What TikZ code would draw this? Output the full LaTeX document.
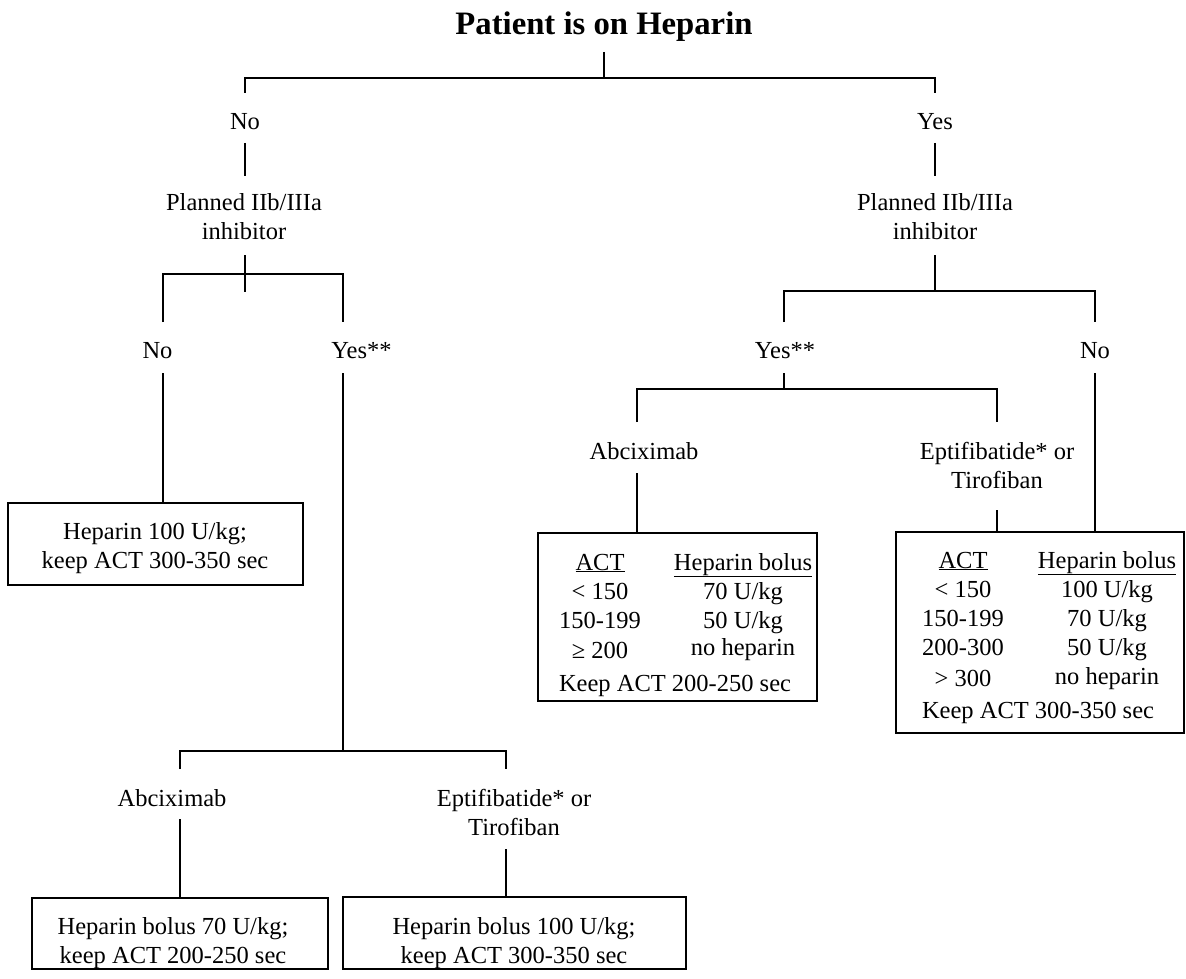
\documentclass[tikz,border=0pt]{standalone}
\usepackage{fontspec}
\setmainfont{Liberation Serif}
\begin{document}
\begin{tikzpicture}[x=1pt,y=-1pt,
  txt/.style={inner sep=0pt, anchor=base, font=\fontsize{24.5}{28.5}\selectfont, align=center},
  ttl/.style={inner sep=0pt, anchor=base, font=\fontsize{32.7}{38}\selectfont\bfseries},
  box/.style={draw, line width=1.9pt, inner sep=0pt},
  ln/.style={line width=1.9pt}]
\useasboundingbox (0,0) rectangle (1186,979);

% ---- title and first split
\node[ttl] (title) at (604,35) {Patient is on Heparin};
\coordinate (t1) at (604,52);
\coordinate (t2) at (604,78);
\draw[ln] (t1) -- (t2);
\node[txt] (no1) at (245,130) {No};
\node[txt] (yes1) at (935,130) {Yes};
\coordinate (nA) at (245,93);
\coordinate (yA) at (935,93);
\draw[ln] (nA) -- (245,78) -- (935,78) -- (yA);

% ---- left "Planned"
\coordinate (n1a) at (245,143); \coordinate (n1b) at (245,176);
\draw[ln] (n1a) -- (n1b);
\node[txt] (pl) at (244,239) {Planned IIb/IIIa\\inhibitor};
\coordinate (pla) at (245,255); \coordinate (plb) at (245,292);
\draw[ln] (pla) -- (plb);
\coordinate (lnoA) at (163,322); \coordinate (lyesA) at (343,322);
\draw[ln] (lnoA) -- (163,274) -- (343,274) -- (lyesA);
\node[txt] (lno) at (157.5,358) {No};
\node[txt] (lyes) at (361.5,358) {Yes**};

% left No -> box
\node[box, minimum width=295pt, minimum height=82pt] (bx1) at (155.5,544) {};
\node[txt] at (155,568) {Heparin 100 U/kg;\\keep ACT 300-350 sec};
\coordinate (lnoB) at (163,373);
\draw[ln] (lnoB) -- (lnoB |- bx1.north);

% left Yes** -> split
\coordinate (lyesB) at (343,373);
\draw[ln] (lyesB) -- (343,751);
\coordinate (labA) at (180,769); \coordinate (leptA) at (506,769);
\draw[ln] (labA) -- (180,751) -- (506,751) -- (leptA);
\node[txt] (lab) at (172,806) {Abciximab};
\node[txt] (lept) at (514,835) {Eptifibatide* or\\Tirofiban};
\node[box, minimum width=296pt, minimum height=71pt] (bx2) at (180,933.5) {};
\node[txt] at (173,963) {Heparin bolus 70 U/kg;\\keep ACT 200-250 sec};
\node[box, minimum width=343pt, minimum height=72pt] (bx3) at (514.5,933) {};
\node[txt] at (514,963) {Heparin bolus 100 U/kg;\\keep ACT 300-350 sec};
\coordinate (labB) at (180,819); \coordinate (leptB) at (506,849);
\draw[ln] (labB) -- (labB |- bx2.north);
\draw[ln] (leptB) -- (leptB |- bx3.north);

% ---- right "Planned"
\coordinate (y1a) at (935,143); \coordinate (y1b) at (935,176);
\draw[ln] (y1a) -- (y1b);
\node[txt] (pr) at (935,239) {Planned IIb/IIIa\\inhibitor};
\coordinate (pra) at (935,255); \coordinate (prb) at (935,291);
\draw[ln] (pra) -- (prb);
\coordinate (ryesA) at (784,322); \coordinate (rnoA) at (1095,322);
\draw[ln] (ryesA) -- (784,291) -- (1095,291) -- (rnoA);
\node[txt] (ryes) at (785,358) {Yes**};
\node[txt] (rno) at (1095,358) {No};

% right Yes** -> split
\coordinate (ryesB) at (784,373);
\draw[ln] (ryesB) -- (784,389);
\coordinate (rabA) at (637,422); \coordinate (reptA) at (997,422);
\draw[ln] (rabA) -- (637,389) -- (997,389) -- (reptA);
\node[txt] (rab) at (644,459) {Abciximab};
\node[txt] (rept) at (997,488) {Eptifibatide* or\\Tirofiban};

% right boxes
\node[box, minimum width=279pt, minimum height=168pt] (bx4) at (677.5,617) {};
\node[box, minimum width=288pt, minimum height=201pt] (bx5) at (1040,632.5) {};
\coordinate (rabB) at (637,473); \coordinate (reptB) at (997,510);
\draw[ln] (rabB) -- (rabB |- bx4.north);
\draw[ln] (reptB) -- (reptB |- bx5.north);
\coordinate (rnoB) at (1095,373);
\draw[ln] (rnoB) -- (rnoB |- bx5.north);

% box 4 contents
\node[txt] at (600,570) {\underline{ACT}};
\node[txt] at (743,570) {\underline{Heparin bolus}};
\node[txt] at (600,599) {< 150};
\node[txt] at (743,599) {70 U/kg};
\node[txt] at (600,628) {150-199};
\node[txt] at (743,628) {50 U/kg};
\node[txt] at (600,658) {≥ 200};
\node[txt] at (743,655) {no heparin};
\node[txt] at (675,691) {Keep ACT 200-250 sec};

% box 5 contents
\node[txt] at (963,568) {\underline{ACT}};
\node[txt] at (1107,568) {\underline{Heparin bolus}};
\node[txt] at (963,597) {< 150};
\node[txt] at (1107,597) {100 U/kg};
\node[txt] at (963,626) {150-199};
\node[txt] at (1107,626) {70 U/kg};
\node[txt] at (963,655) {200-300};
\node[txt] at (1107,655) {50 U/kg};
\node[txt] at (963,686) {> 300};
\node[txt] at (1107,684) {no heparin};
\node[txt] at (1038,718) {Keep ACT 300-350 sec};
\end{tikzpicture}
\end{document}
